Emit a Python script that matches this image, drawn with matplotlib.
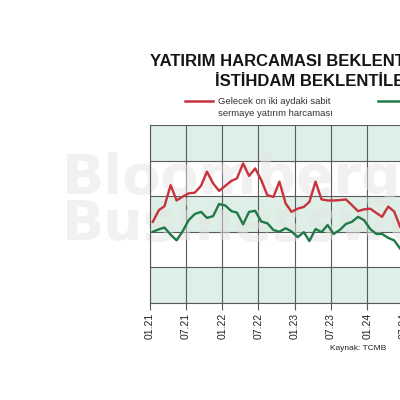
"""
Yatırım harcaması ve istihdam beklentileri (TCMB) — line chart recreation.
Saves out.png (400x400).
"""

import matplotlib
matplotlib.use("Agg")
import matplotlib.pyplot as plt
from matplotlib.lines import Line2D
import pandas as pd

# ─────────────────────────────────────────────────────────────────────────────
# Data (monthly from 01.2021, plotted mid-month)
# ─────────────────────────────────────────────────────────────────────────────

months = pd.date_range("2021-01-01", periods=43, freq="MS") + pd.Timedelta(days=14)

yatirim = [22.8, 26.1, 27.2, 33.1, 28.8, 29.9, 30.8, 31.0, 32.9, 36.9,
           33.6, 31.5, 32.9, 34.3, 35.0, 39.2, 35.7, 37.8, 34.6, 30.3,
           29.8, 34.1, 28.0, 25.6, 26.5, 27.0, 28.4, 34.1, 29.1, 28.8,
           28.8, 28.9, 29.1, 27.5, 25.8, 26.3, 26.5, 25.3, 24.2, 27.1,
           25.7, 21.3, 19.1]

istihdam = [20.0, 20.7, 21.2, 19.2, 17.6, 20.2, 23.3, 25.0, 25.6, 23.9,
            24.4, 27.8, 27.4, 25.8, 25.4, 22.1, 25.6, 25.9, 22.9, 22.4,
            20.5, 20.0, 21.0, 20.1, 18.5, 19.9, 17.4, 20.8, 19.9, 21.9,
            19.4, 20.5, 22.2, 22.8, 24.2, 23.3, 20.8, 19.4, 19.4, 18.3,
            17.6, 15.2, 14.3]

tick_dates = pd.date_range("2021-01-01", "2024-12-01", freq="6MS")
tick_labels = [d.strftime("%m.%y") for d in tick_dates]
bands = [0, 10, 20, 30, 40, 50]

RED   = "#c8323c"
GREEN = "#1f7a47"
MINT  = "#ddefe6"
GRID  = "#5a5a5a"

plt.rcParams["font.family"] = ["Liberation Sans", "DejaVu Sans"]

# ─────────────────────────────────────────────────────────────────────────────
# Figure
# ─────────────────────────────────────────────────────────────────────────────

fig = plt.figure(figsize=(4, 4), dpi=100)
fig.patch.set_facecolor("white")

# axes runs off the right edge like the cropped original
ax = fig.add_axes([150 / 400, 1 - 303 / 400, 290 / 400, 178 / 400])
ax.set_xlim(pd.Timestamp("2021-01-01"), pd.Timestamp("2025-01-01"))
ax.set_ylim(bands[0], bands[-1])

# alternating mint / white bands
for i, (lo, hi) in enumerate(zip(bands[:-1], bands[1:])):
    if i % 2 == 0:
        ax.axhspan(lo, hi, color=MINT, lw=0, zorder=0)

# faint watermark
for txt, base in [("Bloomberg", 194), ("Businessweek", 240)]:
    ax.text(62 / 400, 1 - base / 400, txt, transform=fig.transFigure,
            family="DejaVu Sans", fontsize=40, fontweight="bold",
            color="#e4e4e4", alpha=0.5, ha="left", va="baseline",
            zorder=1, clip_on=False)

ax.plot(months, yatirim, color=RED, lw=1.7, zorder=3)
ax.plot(months, istihdam, color=GREEN, lw=1.7, zorder=3)

ax.set_xticks(tick_dates)
ax.set_xticklabels(tick_labels, rotation=90, fontsize=7.5, color="#222222")
ax.set_yticks(bands)
ax.tick_params(axis="x", length=5, width=0.8, color=GRID, pad=2)
ax.tick_params(axis="y", length=0, labelleft=False)
ax.grid(True, color=GRID, lw=0.8, zorder=2)
ax.set_axisbelow(True)
for side in ["top", "right"]:
    ax.spines[side].set_visible(False)
for side in ["left", "bottom"]:
    ax.spines[side].set_color(GRID)
    ax.spines[side].set_linewidth(0.8)

# ─────────────────────────────────────────────────────────────────────────────
# Title, legend, source
# ─────────────────────────────────────────────────────────────────────────────

fig.text(150 / 400, 1 - 62 / 400, "YATIRIM HARCAMASI BEKLENTİLERİ VE",
         fontsize=12, fontweight="bold", color="#151515", ha="left", va="center")
fig.text(215 / 400, 1 - 81 / 400, "İSTİHDAM BEKLENTİLERİ",
         fontsize=12, fontweight="bold", color="#151515", ha="left", va="center")

fig.add_artist(Line2D([185 / 400, 213 / 400], [1 - 101 / 400, 1 - 101 / 400],
                      color=RED, lw=1.8, transform=fig.transFigure))
fig.text(218 / 400, 1 - 101 / 400, "Gelecek on iki aydaki sabit",
         fontsize=6.8, color="#333333", ha="left", va="center")
fig.text(218 / 400, 1 - 113 / 400, "sermaye yatırım harcaması",
         fontsize=6.8, color="#333333", ha="left", va="center")
fig.add_artist(Line2D([378 / 400, 410 / 400], [1 - 101 / 400, 1 - 101 / 400],
                      color=GREEN, lw=1.8, transform=fig.transFigure))

fig.text(330 / 400, 1 - 349 / 400, "Kaynak: TCMB",
         fontsize=6, color="#222222", ha="left", va="center")

fig.savefig("out.png", dpi=100)
plt.close(fig)
